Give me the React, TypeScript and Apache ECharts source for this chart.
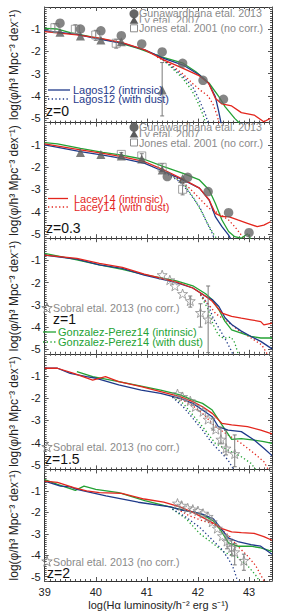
import React, { useEffect, useRef } from "react";
import * as echarts from "echarts";

// ---------------- data (log L, log phi) ----------------
// z = 0
const lagosZ0 = [[39,-1.06],[39.63,-1.23],[40.07,-1.45],[40.52,-1.63],[40.96,-1.93],[41.33,-2.31],[41.71,-2.61],[42.03,-3.06],[42.21,-3.43],[42.34,-4.03],[42.4,-4.63],[42.46,-5.3]];
const lagosDustZ0 = [[41.2,-2.2],[41.45,-2.6],[41.7,-3.1],[41.9,-3.6],[42.03,-4.2],[42.15,-4.85],[42.21,-5.3]];
const laceyZ0 = [[39,-1.11],[39.63,-1.25],[40.07,-1.4],[40.52,-1.6],[40.96,-1.93],[41.33,-2.38],[41.71,-2.76],[42.03,-3.1],[42.21,-3.43],[42.34,-4.1],[42.47,-4.36],[42.66,-4.45],[42.85,-4.75],[43.1,-4.86],[43.29,-5.16],[43.42,-5.01]];
const laceyDustZ0 = [[41.2,-2.25],[41.45,-2.55],[41.7,-3.0],[41.9,-3.45],[42.05,-3.75],[42.2,-4.0],[42.3,-4.4],[42.38,-4.9],[42.42,-5.3]];
const gpZ0 = [[39,-0.96],[39.25,-0.99],[39.5,-1.15],[39.94,-1.36],[40.38,-1.56],[40.83,-1.86],[41.27,-2.23],[41.71,-2.53],[41.96,-2.91],[42.22,-3.43],[42.41,-4.03],[42.53,-4.48],[42.72,-5.01],[42.85,-5.3]];
const gpDustZ0 = [[41.2,-2.15],[41.45,-2.65],[41.7,-3.2],[41.88,-3.75],[42.0,-4.3],[42.1,-4.85],[42.16,-5.3]];
const gunawardhanaZ0 = [[39.3,-0.73],[39.7,-0.99],[40.1,-1.07],[40.5,-1.29],[40.9,-1.66],[41.3,-2.02],[41.7,-2.53],[42.1,-3.3],[42.5,-4.15]];
const lyZ0 = [[39.3,-1.14],[39.7,-1.3],[40.1,-1.48],[40.5,-1.56],[41.3,-3.73]];
const jonesZ0 = [[39.2,-0.93],[39.6,-1.0],[40.0,-1.26],[40.4,-1.63]];
const errorBarsZ0 = [[39.2,-0.75,-1.15],[39.6,-0.8,-1.2],[40.0,-1.05,-1.5],[40.4,-1.45,-1.85],[41.3,-2.5,-4.9]];

// z = 0.3
const lagosZ03 = [[39,-1.0],[39.7,-1.31],[40.14,-1.46],[40.51,-1.61],[40.96,-1.83],[41.33,-2.2],[41.71,-2.58],[42.03,-2.95],[42.22,-3.48],[42.34,-4.23],[42.47,-4.68],[42.6,-5.06],[42.66,-5.3]];
const lagosDustZ03 = [[41.35,-2.25],[41.65,-2.66],[41.84,-3.18],[42.03,-3.78],[42.15,-4.38],[42.28,-4.98],[42.33,-5.3]];
const laceyZ03 = [[39,-0.96],[39.7,-1.23],[40.14,-1.38],[40.51,-1.53],[40.96,-1.76],[41.33,-2.13],[41.71,-2.55],[42.03,-2.95],[42.22,-3.48],[42.34,-4.08],[42.47,-4.23],[42.6,-4.23],[42.78,-4.38],[42.97,-4.53],[43.16,-4.68],[43.29,-4.61],[43.42,-4.46]];
const laceyDustZ03 = [[41.4,-2.25],[41.65,-2.58],[41.84,-2.96],[42.03,-3.41],[42.22,-3.86],[42.41,-4.08],[42.6,-4.38],[42.72,-4.68],[42.85,-5.06],[42.92,-5.3]];
const gpZ03 = [[39,-0.9],[39.25,-0.96],[39.7,-1.16],[40.14,-1.34],[40.51,-1.46],[40.96,-1.66],[41.33,-1.98],[41.71,-2.28],[42.03,-2.58],[42.22,-3.03],[42.34,-3.63],[42.47,-4.38],[42.6,-4.9],[42.72,-5.13],[42.85,-5.2],[42.97,-5.0],[43.05,-5.3]];
const gpDustZ03 = [[41.4,-2.25],[41.71,-2.73],[41.9,-3.33],[42.09,-4.08],[42.22,-4.68],[42.34,-5.13],[42.4,-5.3]];
const gunawardhanaZ03 = [[41.4,-2.43],[41.8,-2.46],[42.2,-3.1],[42.6,-4.05],[43.0,-4.95]];
const lyZ03 = [[39.7,-1.34],[40.1,-1.43],[40.5,-1.5],[40.9,-1.64],[41.3,-2.13],[41.7,-2.51]];
const jonesZ03 = [[40.5,-1.43],[40.9,-1.5],[41.3,-2.01],[41.7,-3.0]];
const errorBarsZ03 = [[40.5,-1.35,-1.52],[40.9,-1.4,-1.62],[41.3,-1.85,-2.2],[41.7,-2.75,-3.25]];

// z = 1
const lagosZ1 = [[39,-0.76],[39.3,-0.85],[39.63,-0.94],[40.07,-1.2],[40.52,-1.36],[40.95,-1.66],[41.58,-2.0],[41.9,-2.24],[42.15,-2.61],[42.28,-2.76],[42.41,-3.07],[42.53,-3.58],[42.66,-3.88],[42.85,-4.18],[43.04,-4.42],[43.23,-4.64],[43.45,-4.98]];
const lagosDustZ1 = [[42.05,-2.5],[42.2,-3.0],[42.3,-3.6],[42.45,-4.2],[42.55,-4.6],[42.65,-5.05],[42.7,-5.3]];
const laceyZ1 = [[39,-0.76],[39.63,-0.91],[40.07,-1.13],[40.52,-1.31],[40.95,-1.62],[41.58,-1.97],[41.9,-2.24],[42.15,-2.61],[42.28,-2.84],[42.47,-3.37],[42.66,-3.52],[42.85,-3.6],[43.04,-3.67],[43.23,-3.75],[43.29,-3.9],[43.45,-3.82]];
const laceyDustZ1 = [[42.05,-2.55],[42.25,-3.1],[42.35,-3.4],[42.55,-3.7],[42.8,-4.15],[43.05,-4.5],[43.25,-4.8],[43.38,-5.3]];
const gpZ1 = [[39,-0.68],[39.63,-0.98],[40.07,-1.2],[40.52,-1.4],[40.95,-1.64],[41.58,-1.92],[41.9,-2.14],[42.15,-2.5],[42.28,-2.77],[42.41,-3.22],[42.53,-3.74],[42.66,-4.12],[42.85,-4.27],[43.04,-4.42],[43.23,-4.49],[43.45,-4.49]];
const gpDustZ1 = [[42.05,-2.55],[42.2,-3.2],[42.3,-3.9],[42.4,-4.35],[42.5,-4.5],[42.65,-4.45],[42.72,-4.7],[42.8,-5.3]];
const sobralZ1 = [[41.3,-1.65],[41.45,-1.88],[41.55,-2.15],[41.7,-2.5],[41.85,-2.82],[42.05,-3.35],[42.2,-3.65]];
const errorBarsZ1 = [[41.85,-2.6,-3.1],[42.05,-2.95,-4.0],[42.2,-2.15,-5.15]];

// z = 1.5
const lagosZ15 = [[39,-0.65],[39.25,-0.65],[39.5,-0.88],[39.82,-1.03],[40.01,-1.1],[40.45,-1.4],[40.89,-1.63],[41.27,-1.78],[41.65,-2.0],[41.9,-2.23],[42.09,-2.53],[42.28,-2.83],[42.4,-3.28],[42.59,-3.43],[42.85,-3.5],[43.1,-3.88],[43.29,-4.25],[43.45,-4.58]];
const lagosDustZ15 = [[41.5,-1.95],[41.71,-2.38],[41.9,-2.9],[42.09,-3.43],[42.28,-4.03],[42.47,-4.48],[42.59,-4.78],[42.72,-5.3]];
const laceyZ15 = [[39,-0.65],[39.25,-0.65],[39.57,-0.88],[39.94,-1.18],[40.19,-1.03],[40.45,-1.25],[40.89,-1.48],[41.27,-1.7],[41.65,-1.93],[41.9,-2.15],[42.09,-2.38],[42.28,-2.68],[42.47,-3.13],[42.66,-3.2],[42.97,-3.28],[43.23,-3.43],[43.45,-3.6]];
const laceyDustZ15 = [[41.6,-2.0],[41.84,-2.23],[42.09,-2.68],[42.34,-3.28],[42.59,-3.65],[42.85,-4.03],[43.1,-4.48],[43.29,-4.85],[43.4,-5.3]];
const gpZ15 = [[39.63,-0.8],[39.94,-1.03],[40.45,-1.25],[40.89,-1.45],[41.27,-1.63],[41.65,-1.85],[41.9,-2.08],[42.09,-2.23],[42.28,-2.53],[42.47,-3.2],[42.66,-3.85],[42.85,-3.82],[43.1,-3.88],[43.29,-3.95],[43.45,-4.03]];
const gpDustZ15 = [[41.5,-1.95],[41.71,-2.23],[41.9,-2.75],[42.09,-3.28],[42.34,-4.03],[42.59,-4.33],[42.85,-4.63],[43.04,-4.93],[43.16,-5.3]];
const sobralZ15 = [[41.6,-1.8],[41.7,-1.93],[41.85,-2.12],[41.95,-2.38],[42.1,-2.6],[42.2,-2.95],[42.35,-3.4],[42.45,-3.85],[42.55,-4.25],[42.72,-4.5]];
const errorBarsZ15 = [[42.3,-2.9,-3.43],[42.45,-3.3,-4.05],[42.55,-3.45,-4.55],[42.72,-3.65,-5.08]];

// z = 2
const lagosZ2 = [[39,-0.55],[39.31,-0.78],[39.5,-0.81],[39.63,-0.93],[40.2,-1.23],[40.83,-1.53],[41.46,-1.75],[41.65,-1.88],[41.9,-1.98],[42.1,-2.1],[42.3,-2.3],[42.45,-2.75],[42.6,-3.2],[42.78,-3.36],[43.04,-3.51],[43.23,-3.58],[43.45,-3.95]];
const lagosDustZ2 = [[41.5,-1.85],[41.77,-2.23],[42.03,-2.69],[42.28,-3.28],[42.47,-3.73],[42.6,-4.18],[42.7,-4.63],[42.76,-5.08],[42.8,-5.3]];
const laceyZ2 = [[39,-0.55],[39.25,-0.6],[39.57,-0.85],[39.82,-1.0],[40.07,-1.08],[40.51,-1.12],[40.95,-1.38],[41.33,-1.52],[41.65,-1.75],[41.9,-2.0],[42.1,-2.25],[42.3,-2.5],[42.47,-2.76],[42.66,-2.91],[42.85,-2.95],[43.1,-2.98],[43.29,-3.13],[43.45,-3.3]];
const laceyDustZ2 = [[41.6,-1.85],[41.83,-2.16],[42.1,-2.4],[42.31,-2.54],[42.6,-3.07],[42.78,-3.58],[42.97,-4.03],[43.13,-4.48],[43.23,-4.93],[43.32,-5.3]];
const gpZ2 = [[39,-0.48],[39.25,-0.7],[39.6,-0.98],[39.77,-0.78],[40.0,-0.93],[40.45,-1.08],[40.96,-1.45],[41.33,-1.68],[41.65,-1.86],[41.9,-1.98],[42.1,-2.12],[42.3,-2.4],[42.45,-2.85],[42.6,-3.43],[42.78,-3.58],[43.04,-3.58],[43.23,-3.66],[43.45,-3.82]];
const gpDustZ2 = [[41.5,-1.85],[41.77,-2.3],[42.03,-2.98],[42.28,-3.43],[42.53,-3.88],[42.78,-4.1],[42.97,-4.48],[43.13,-4.93],[43.23,-5.3]];
const sobralZ2 = [[41.6,-1.58],[41.68,-1.68],[41.8,-1.8],[41.9,-1.86],[42.0,-1.93],[42.1,-2.05],[42.2,-2.2],[42.28,-2.45],[42.38,-2.75],[42.48,-3.1],[42.57,-3.35],[42.66,-3.65],[42.72,-3.85],[42.9,-4.25]];
const errorBarsZ2 = [[42.57,-3.1,-3.7],[42.66,-3.3,-4.0],[42.72,-3.45,-4.45],[42.9,-3.95,-4.7]];

const redshiftLabels = ["z=0", "z=0.3", "z=1", "z=1.5", "z=2"];
const Y_TITLE = "log(\u03c6/h\u00b3 Mpc\u207b\u00b3 dex\u207b\u00b9)";
const X_TITLE = "log(H\u03b1 luminosity/h\u207b\u00b2 erg s\u207b\u00b9)";

// ---------------- styling / layout ----------------
const FONT = '"Liberation Sans", Arial, Helvetica, sans-serif';
const BLUE = "#1f3a8a";
const RED = "#e3261d";
const GREEN = "#24a234";
const GREY = "#8a8a8a";
const FRAME = "#333333";
const TICK = "#555555";
const X_MIN = 39, X_MAX = 43.45, Y_MIN = -5.2, Y_MAX = 0;
const LEFT = 37, RIGHT_EDGE = 272, W = 281, H = 611;
const TOPS = [7, 122.6, 238.2, 353.8, 469.4];
const PH = 115.6;
const STAR = "path://M10,0L12.35,6.76L19.51,6.91L13.8,11.24L15.88,18.09L10,14L4.12,18.09L6.2,11.24L0.49,6.91L7.65,6.76Z";

const panels = [
  { lagos: lagosZ0, lagosDust: lagosDustZ0, lacey: laceyZ0, laceyDust: laceyDustZ0, gp: gpZ0, gpDust: gpDustZ0, gun: gunawardhanaZ0, ly: lyZ0, jones: jonesZ0, sobral: null, err: errorBarsZ0 },
  { lagos: lagosZ03, lagosDust: lagosDustZ03, lacey: laceyZ03, laceyDust: laceyDustZ03, gp: gpZ03, gpDust: gpDustZ03, gun: gunawardhanaZ03, ly: lyZ03, jones: jonesZ03, sobral: null, err: errorBarsZ03 },
  { lagos: lagosZ1, lagosDust: lagosDustZ1, lacey: laceyZ1, laceyDust: laceyDustZ1, gp: gpZ1, gpDust: gpDustZ1, gun: null, ly: null, jones: null, sobral: sobralZ1, err: errorBarsZ1 },
  { lagos: lagosZ15, lagosDust: lagosDustZ15, lacey: laceyZ15, laceyDust: laceyDustZ15, gp: gpZ15, gpDust: gpDustZ15, gun: null, ly: null, jones: null, sobral: sobralZ15, err: errorBarsZ15 },
  { lagos: lagosZ2, lagosDust: lagosDustZ2, lacey: laceyZ2, laceyDust: laceyDustZ2, gp: gpZ2, gpDust: gpDustZ2, gun: null, ly: null, jones: null, sobral: sobralZ2, err: errorBarsZ2 },
];

function starPoints(cx: number, cy: number, r: number) {
  const pts: number[][] = [];
  for (let k = 0; k < 10; k++) {
    const a = (-90 + k * 36) * Math.PI / 180;
    const rr = k % 2 === 0 ? r : r * 0.4;
    pts.push([cx + rr * Math.cos(a), cy + rr * Math.sin(a)]);
  }
  return pts;
}

function buildOption() {
  const grid: any[] = [];
  const xAxis: any[] = [];
  const yAxis: any[] = [];
  const series: any[] = [];
  const graphic: any[] = [];

  panels.forEach((p, i) => {
    grid.push({ left: LEFT, width: RIGHT_EDGE - LEFT, top: TOPS[i], height: PH, show: false });
    const isBottom = i === panels.length - 1;
    for (const pos of ["bottom", "top"]) {
      xAxis.push({
        gridIndex: i, type: "value", position: pos, min: X_MIN, max: X_MAX, interval: 1,
        splitLine: { show: false },
        axisLine: { show: true, onZero: false, lineStyle: { color: FRAME, width: 1 } },
        axisTick: { show: true, inside: true, length: 4, interval: 0, lineStyle: { color: TICK } },
        axisLabel: {
          show: pos === "bottom" && isBottom, interval: 0, margin: 5, fontSize: 11, color: "#222", fontFamily: FONT,
          showMaxLabel: false,
          formatter: (v: number) => (Math.abs(v - Math.round(v)) < 1e-6 ? String(Math.round(v)) : ""),
        },
        name: pos === "bottom" && isBottom ? X_TITLE : "",
        nameLocation: "middle", nameGap: 18,
        nameTextStyle: { fontSize: 11, color: "#222", fontFamily: FONT },
      });
      xAxis.push({
        gridIndex: i, type: "value", position: pos, min: X_MIN, max: X_MAX, interval: 0.1,
        splitLine: { show: false },
        axisLine: { show: false, onZero: false },
        axisTick: { show: true, inside: true, length: 2, interval: 0, lineStyle: { color: TICK } },
        axisLabel: { show: false, interval: 0 },
      });
    }
    for (const pos of ["left", "right"]) {
      yAxis.push({
        gridIndex: i, type: "value", position: pos, min: Y_MIN, max: Y_MAX, splitNumber: 5,
        splitLine: { show: false },
        axisLine: { show: true, onZero: false, lineStyle: { color: FRAME, width: 1 } },
        axisTick: { show: true, inside: true, length: 4, interval: 0, lineStyle: { color: TICK } },
        axisLabel: {
          show: pos === "left", interval: 0, margin: 4, fontSize: 11, color: "#222", fontFamily: FONT,
          formatter: (v: number) => {
            const r = Math.round(v);
            return Math.abs(v - r) < 1e-6 && r <= -1 && r >= -5 ? String(r) : "";
          },
        },
        name: pos === "left" ? Y_TITLE : "",
        nameLocation: "middle", nameGap: 18, nameRotate: 90,
        nameTextStyle: { fontSize: 12, color: "#222", fontFamily: FONT },
      });
      yAxis.push({
        gridIndex: i, type: "value", position: pos, min: Y_MIN, max: Y_MAX, interval: 0.1,
        splitLine: { show: false },
        axisLine: { show: false, onZero: false },
        axisTick: { show: true, inside: true, length: 2, interval: 0, lineStyle: { color: TICK } },
        axisLabel: { show: false, interval: 0 },
      });
    }

    const xi = 4 * i, yi = 4 * i;
    const line = (data: number[][], color: string, dotted: boolean) => ({
      type: "line", xAxisIndex: xi, yAxisIndex: yi, data, symbol: "none", silent: true, clip: true,
      z: dotted ? 2 : 3,
      lineStyle: { color, width: 1.3, type: dotted ? [1.3, 2.4] : "solid" },
    });
    series.push(line(p.gpDust, GREEN, true), line(p.lagosDust, BLUE, true), line(p.laceyDust, RED, true));
    series.push(line(p.gp, GREEN, false), line(p.lagos, BLUE, false), line(p.lacey, RED, false));

    series.push({
      type: "custom", xAxisIndex: xi, yAxisIndex: yi, data: p.err, silent: true, clip: true, z: 4,
      encode: { x: 0, y: [1, 2] },
      renderItem: (params: any, api: any) => {
        const x = api.value(0), lo = api.value(1), hi = api.value(2);
        const a = api.coord([x, lo]);
        const b = api.coord([x, hi]);
        const st = { stroke: "#7a7a7a", lineWidth: 1 };
        return {
          type: "group",
          children: [
            { type: "line", shape: { x1: a[0], y1: a[1], x2: b[0], y2: b[1] }, style: st },
            { type: "line", shape: { x1: a[0] - 2, y1: a[1], x2: a[0] + 2, y2: a[1] }, style: st },
            { type: "line", shape: { x1: b[0] - 2, y1: b[1], x2: b[0] + 2, y2: b[1] }, style: st },
          ],
        };
      },
    });
    if (p.jones) series.push({ type: "scatter", xAxisIndex: xi, yAxisIndex: yi, data: p.jones, symbol: "rect", symbolSize: 8, silent: true, z: 5, itemStyle: { color: "rgba(255,255,255,0)", borderColor: "#8c8c8c", borderWidth: 1 } });
    if (p.ly) series.push({ type: "scatter", xAxisIndex: xi, yAxisIndex: yi, data: p.ly, symbol: "triangle", symbolSize: 9, silent: true, z: 5, itemStyle: { color: "#5a5a5a" } });
    if (p.gun) series.push({ type: "scatter", xAxisIndex: xi, yAxisIndex: yi, data: p.gun, symbol: "circle", symbolSize: 9.5, silent: true, z: 5, itemStyle: { color: "#666666" } });
    if (p.sobral) series.push({ type: "scatter", xAxisIndex: xi, yAxisIndex: yi, data: p.sobral, symbol: STAR, symbolKeepAspect: true, symbolSize: 10, silent: true, z: 5, itemStyle: { color: "rgba(255,255,255,0)", borderColor: "#8c8c8c", borderWidth: 1 } });
  });

  // ---------- in-panel legends ----------
  const txt = (x: number, y: number, text: string, fill: string, size = 11, extra: any = {}) => ({
    type: "text", x, y, z: 20, silent: true,
    style: { text, fill, fontSize: size, fontFamily: FONT, verticalAlign: "middle", align: "left", ...extra },
  });
  const obsLegend = (yGun: number, yLy: number, yJones: number) => {
    graphic.push({ type: "circle", z: 20, silent: true, shape: { cx: 134, cy: yGun + 0.5, r: 4.5 }, style: { fill: "#666666" } });
    graphic.push(txt(139, yGun, "Gunawardhana etal. 2013", GREY, 10.7));
    graphic.push({ type: "polygon", z: 20, silent: true, shape: { points: [[134, yLy - 4], [138.3, yLy + 3.5], [129.7, yLy + 3.5]] }, style: { fill: "#5a5a5a" } });
    graphic.push(txt(139, yLy, "Ly etal. 2007", GREY, 10.7));
    graphic.push({ type: "rect", z: 21, silent: true, shape: { x: 130.5, y: yJones - 3.5, width: 7, height: 7 }, style: { fill: "#fff", stroke: "#8c8c8c", lineWidth: 1 } });
    graphic.push(txt(139, yJones, "Jones etal. 2001 (no corr.)", GREY, 10.7, { backgroundColor: "#fff", padding: [0, 1, 0, 0] }));
  };
  const lineLegend = (x1: number, x2: number, y1: number, y2: number, tx: number, color: string, name: string) => {
    graphic.push({ type: "line", z: 20, silent: true, shape: { x1, y1, x2, y2: y1 }, style: { stroke: color, lineWidth: 1.3 } });
    graphic.push({ type: "line", z: 20, silent: true, shape: { x1, y1: y2, x2, y2 }, style: { stroke: color, lineWidth: 1.3, lineDash: [1.3, 2.4] } });
    graphic.push(txt(tx, y1, name + " (intrinsic)", color, 11));
    graphic.push(txt(tx, y2, name + " (with dust)", color, 11));
  };
  const sobralLegend = (y: number) => {
    graphic.push({ type: "polygon", z: 20, silent: true, shape: { points: starPoints(47, y, 5.5) }, style: { fill: "none", stroke: "#8c8c8c", lineWidth: 1 } });
    graphic.push(txt(53, y, "Sobral etal. 2013 (no corr.)", GREY, 10.7));
  };
  const zLabel = (x: number, y: number, i: number) => graphic.push(txt(x, y, redshiftLabels[i], "#111", 14));

  obsLegend(13.3, 20.2, 28.3);
  lineLegend(48, 70, 90, 99, 73, BLUE, "Lagos12");
  zLabel(46, 111, 0);

  obsLegend(126.8, 134, 142.5);
  lineLegend(48, 68, 198.5, 207, 74, RED, "Lacey14");
  zLabel(46, 227.5, 1);

  sobralLegend(308.3);
  zLabel(53, 319, 2);
  lineLegend(43, 56, 332, 342, 58, GREEN, "Gonzalez-Perez14");

  sobralLegend(447.3);
  zLabel(45, 458.5, 3);

  sobralLegend(561.7);
  zLabel(47, 573, 4);

  return {
    animation: false,
    backgroundColor: "#ffffff",
    textStyle: { fontFamily: FONT },
    grid, xAxis, yAxis, series, graphic,
  };
}

export default function App() {
  const ref = useRef<HTMLDivElement>(null);
  useEffect(() => {
    if (!ref.current) return;
    const chart = echarts.init(ref.current, undefined, { renderer: "svg" });
    chart.setOption(buildOption() as any);
    return () => chart.dispose();
  }, []);
  return <div ref={ref} style={{ position: "absolute", left: 0, top: 0, width: W, height: H }} />;
}
